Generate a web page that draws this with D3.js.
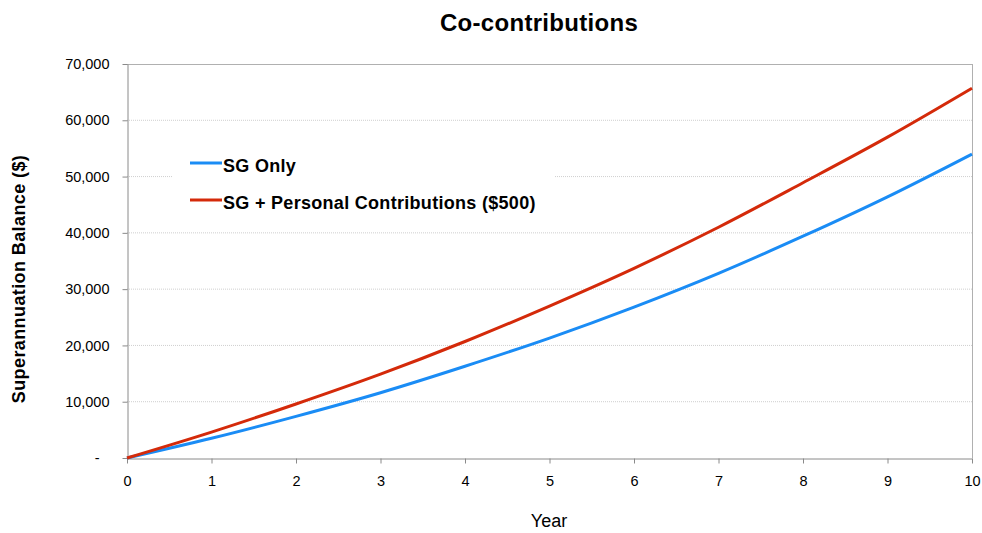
<!DOCTYPE html>
<html><head><meta charset="utf-8">
<script src="https://cdn.jsdelivr.net/npm/d3@7"></script>
<style>body{margin:0;background:#fff;}svg{display:block;font-family:"Liberation Sans",Arial,Helvetica,sans-serif;}</style>
</head><body>
<svg id="c" width="982" height="533"></svg>
<script>
const years = [0,1,2,3,4,5,6,7,8,9,10];
const sgOnly = [0,3500,7400,11600,16300,21300,26800,32800,39400,46400,54000];
const sgPersonal = [0,4600,9600,14900,20700,27000,33700,41000,48900,57000,65700];
const seriesNames = ["SG Only","SG + Personal Contributions ($500)"];
const seriesColors = ["#1a8cf5","#d42a0a"];
const yTicks = [0,10000,20000,30000,40000,50000,60000,70000];
const xTicks = [0,1,2,3,4,5,6,7,8,9,10];
const title = "Co-contributions";
const xTitle = "Year";
const yTitle = "Superannuation Balance ($)";

const svg = d3.select("#c");
const L=127, R=972, T=64, B=458;
const x = d3.scaleLinear().domain([0,10]).range([L,R]);
const y = d3.scaleLinear().domain([0,70000]).range([B,T]);

// gridlines
svg.append("g").selectAll("line").data(yTicks.filter(d=>d>0&&d<70000)).join("line")
  .attr("x1",L).attr("x2",R).attr("y1",d=>y(d)).attr("y2",d=>y(d))
  .attr("stroke","#cfcfcf").attr("stroke-width",1).attr("stroke-dasharray","1,1");
// frame top/right
svg.append("line").attr("x1",L).attr("x2",R).attr("y1",T+0.5).attr("y2",T+0.5).attr("stroke","#b0b0b0");
svg.append("line").attr("x1",R+0.5).attr("x2",R+0.5).attr("y1",T).attr("y2",B).attr("stroke","#b0b0b0");

// axes
const fmt = d => d===0 ? "-" : d3.format(",")(d);
const ya = svg.append("g").attr("transform",`translate(${L+0.5},0)`)
  .call(d3.axisLeft(y).tickValues(yTicks).tickFormat(fmt).tickSize(5).tickSizeOuter(0).tickPadding(13));
ya.select(".domain").attr("stroke","#8a8a8a");
ya.selectAll(".tick line").attr("stroke","#8a8a8a");
ya.selectAll("text").attr("font-size",14.5).attr("fill","#000").attr("font-family","Liberation Sans, Arial, sans-serif");
ya.selectAll(".tick").filter(d=>d===0).select("text").attr("dx",-10);

const xa = svg.append("g").attr("transform",`translate(0,${B+0.5})`)
  .call(d3.axisBottom(x).tickValues(xTicks).tickFormat(d3.format("d")).tickSize(5).tickSizeOuter(0).tickPadding(12));
xa.select(".domain").attr("stroke","#8a8a8a");
xa.selectAll(".tick line").attr("stroke","#8a8a8a");
xa.selectAll("text").attr("font-size",14.5).attr("fill","#000").attr("font-family","Liberation Sans, Arial, sans-serif");

// legend box (white)
svg.append("rect").attr("x",173).attr("y",140).attr("width",382).attr("height",85).attr("fill","#fff");

// lines
const line = d3.line().x((d,i)=>x(years[i])).y(d=>y(d)).curve(d3.curveMonotoneX);
[sgOnly, sgPersonal].forEach((s,k)=>{
  svg.append("path").datum(s).attr("d",line).attr("fill","none")
    .attr("stroke",seriesColors[k]).attr("stroke-width",3).attr("stroke-linejoin","round");
});

// legend
const lg = svg.append("g");
seriesNames.forEach((n,k)=>{
  const yy = 163 + k*37;
  lg.append("line").attr("x1",190).attr("x2",222).attr("y1",yy).attr("y2",yy)
    .attr("stroke",seriesColors[k]).attr("stroke-width",3);
  lg.append("text").attr("x",223).attr("y",yy+9).attr("font-size",18).attr("letter-spacing",0.3)
    .attr("font-weight","bold").text(n);
});

// titles
svg.append("text").attr("x",539).attr("y",31).attr("text-anchor","middle")
  .attr("font-size",24).attr("letter-spacing",0.3).attr("font-weight","bold").text(title);
svg.append("text").attr("x",549).attr("y",527).attr("text-anchor","middle")
  .attr("font-size",18).text(xTitle);
svg.append("text").attr("transform","translate(25,279) rotate(-90)").attr("text-anchor","middle")
  .attr("font-size",18).attr("letter-spacing",0.4).attr("font-weight","bold").text(yTitle);
</script>
</body></html>
